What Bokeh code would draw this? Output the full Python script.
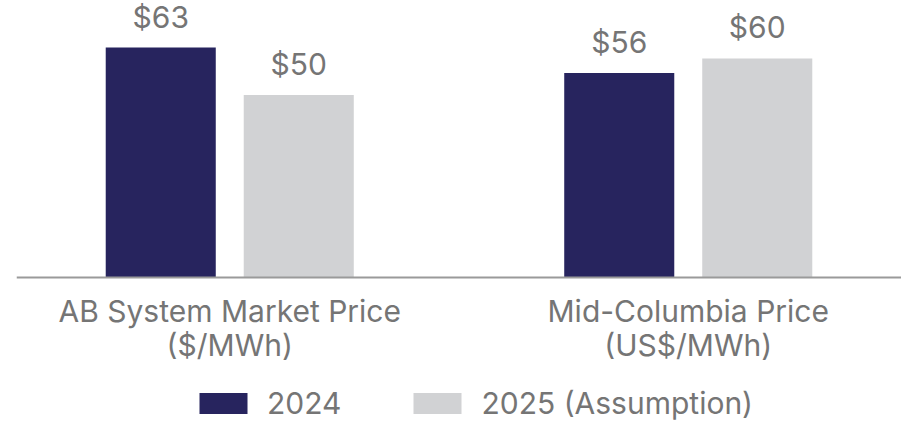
from bokeh.plotting import figure
from bokeh.models import (ColumnDataSource, FactorRange, Range1d, LabelSet,
                          Legend, LegendItem, Span)
from bokeh.core.properties import value
from bokeh.transform import dodge
from bokeh.embed import file_html
from bokeh.resources import INLINE

# ---- data ----
groups = ["AB System Market Price\n($/MWh)", "Mid-Columbia Price\n(US$/MWh)"]
series = ["2024", "2025 (Assumption)"]
values_2024 = [63, 56]
values_2025 = [50, 60]
labels_2024 = ["$63", "$56"]
labels_2025 = ["$50", "$60"]

NAVY = "#27245E"
GREY = "#D1D2D4"
TEXT = "#757575"
FONT = "Inter"

line1 = [g.split("\n")[0] for g in groups]
line2 = [g.split("\n")[1] for g in groups]
src = ColumnDataSource(dict(group=groups, v24=values_2024, v25=values_2025,
                            l24=labels_2024, l25=labels_2025,
                            line1=line1, line2=line2, zero=[0, 0]))

p = figure(x_range=FactorRange(factors=groups, range_padding=-0.0349,
                               range_padding_units="absolute"),
           y_range=Range1d(-39.73, 75.89),
           width=901, height=422,
           min_border_left=16, min_border_right=0, min_border_top=0,
           min_border_bottom=0,
           x_axis_location=None, y_axis_location=None, toolbar_location=None,
           output_backend="svg", outline_line_color=None)
p.xgrid.visible = False
p.ygrid.visible = False

OFF = 0.1505
W = 0.24
r1 = p.vbar(x=dodge("group", -OFF, range=p.x_range), top="v24", width=W,
            source=src, fill_color=NAVY, line_color=None)
r2 = p.vbar(x=dodge("group", OFF, range=p.x_range), top="v25", width=W,
            source=src, fill_color=GREY, line_color=None)

p.add_layout(Span(location=0, dimension="width", line_color="#9A9A9A",
                  line_width=2))

for off, col, top in ((-OFF, "l24", "v24"), (OFF, "l25", "v25")):
    p.add_layout(LabelSet(x=dodge("group", off, range=p.x_range), y=top, text=col,
                          source=src, y_offset=20, text_align="center",
                          text_baseline="alphabetic", text_font=value(FONT),
                          text_font_size="30px", text_color=TEXT))

for col, yoff in (("line1", -45), ("line2", -79)):
    p.add_layout(LabelSet(x="group", y="zero", text=col, source=src,
                          y_offset=yoff, text_align="center",
                          text_baseline="alphabetic", text_font=value(FONT),
                          text_font_size="30px", text_color=TEXT))

legend = Legend(items=[LegendItem(label=series[0], renderers=[r1]),
                       LegendItem(label=series[1], renderers=[r2])],
                location=(177, 1), orientation="horizontal",
                padding=0, margin=0, spacing=66, label_standoff=14,
                glyph_width=60, glyph_height=26, label_height=26,
                label_text_font=FONT, label_text_font_size="30px",
                label_text_color=TEXT, border_line_color=None,
                background_fill_alpha=0)
p.add_layout(legend, "center")

open("out.html", "w").write(file_html(p, INLINE))
